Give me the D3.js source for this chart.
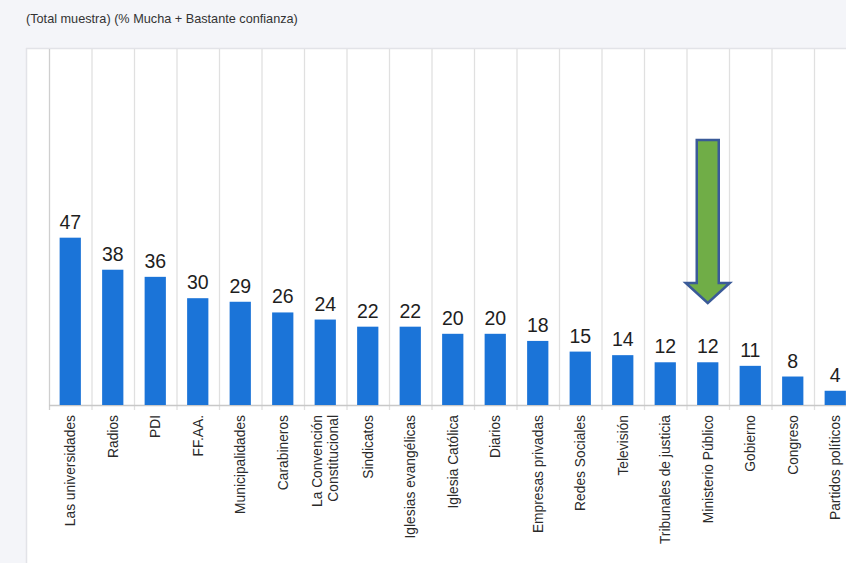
<!DOCTYPE html>
<html>
<head>
<meta charset="utf-8">
<script src="https://cdn.jsdelivr.net/npm/d3@7/dist/d3.min.js"></script>
<style>
html,body{margin:0;padding:0;background:#f4f5f9;}
svg{display:block;}
</style>
</head>
<body>
<svg id="chart" width="846" height="563"></svg>
<script>
const categories = ["Las universidades","Radios","PDI","FF.AA.","Municipalidades","Carabineros","La Convención Constitucional","Sindicatos","Iglesias evangélicas","Iglesia Católica","Diarios","Empresas privadas","Redes Sociales","Televisión","Tribunales de justicia","Ministerio Público","Gobierno","Congreso","Partidos políticos"];
const values = [47,38,36,30,29,26,24,22,22,20,20,18,15,14,12,12,11,8,4];
const labelLines = [["Las universidades"],["Radios"],["PDI"],["FF.AA."],["Municipalidades"],["Carabineros"],["La Convención","Constitucional"],["Sindicatos"],["Iglesias evangélicas"],["Iglesia Católica"],["Diarios"],["Empresas privadas"],["Redes Sociales"],["Televisión"],["Tribunales de justicia"],["Ministerio Público"],["Gobierno"],["Congreso"],["Partidos políticos"]];
const highlighted = "Ministerio Público";
const title = "(Total muestra) (% Mucha + Bastante confianza)";

const svg = d3.select("#chart");
const W = 846, H = 563;
svg.append("rect").attr("width", W).attr("height", H).attr("fill", "#f4f5f9");
// white panel
svg.append("rect").attr("x", 26).attr("y", 48).attr("width", W - 26).attr("height", H - 48).attr("fill", "#ffffff");
svg.append("line").attr("x1", 26).attr("x2", W).attr("y1", 48.5).attr("y2", 48.5).attr("stroke", "#e2e3e8").attr("stroke-width", 1.5);
svg.append("line").attr("x1", 26.5).attr("x2", 26.5).attr("y1", 48).attr("y2", H).attr("stroke", "#e2e3e8").attr("stroke-width", 1.5);

svg.append("text").attr("x", 26).attr("y", 23)
  .attr("font-family", "Liberation Sans, Arial, sans-serif").attr("font-size", 12.7)
  .attr("fill", "#333").text(title);

const step = 42.5, x0 = 49;
const x = d3.scaleBand().domain(categories).range([x0, x0 + step * categories.length]).paddingInner(0.5).paddingOuter(0.25);
const y = d3.scaleLinear().domain([0, 100]).range([405, 49]);

// gridlines at category boundaries
const bounds = d3.range(categories.length + 1).map(i => x0 + i * x.step());
svg.append("g").selectAll("line").data(bounds).join("line")
  .attr("x1", d => d + 0.5).attr("x2", d => d + 0.5)
  .attr("y1", 49).attr("y2", y(0) + 5)
  .attr("stroke", (d, i) => i === 0 ? "#cfcfcf" : "#e0e0e0").attr("stroke-width", 1.3);

// baseline axis
svg.append("line").attr("x1", x0).attr("x2", W).attr("y1", y(0) + 0.5).attr("y2", y(0) + 0.5)
  .attr("stroke", "#c8c8c8").attr("stroke-width", 1.3);

// bars
svg.append("g").selectAll("rect").data(values).join("rect")
  .attr("x", (d, i) => x(categories[i]))
  .attr("width", x.bandwidth())
  .attr("y", d => y(d))
  .attr("height", d => y(0) - y(d))
  .attr("fill", "#1b74d8");

// value labels
svg.append("g").selectAll("text").data(values).join("text")
  .attr("x", (d, i) => x(categories[i]) + x.bandwidth() / 2)
  .attr("y", d => y(d) - 9)
  .attr("text-anchor", "middle")
  .attr("font-family", "Liberation Sans, Arial, sans-serif").attr("font-size", 19.5)
  .attr("fill", "#1e1e1e").text(d => d);

// category labels
const lg = svg.append("g").attr("font-family", "Liberation Sans, Arial, sans-serif").attr("font-size", 13.8).attr("fill", "#2a2a2a");
categories.forEach((c, i) => {
  const cx = x(c) + x.bandwidth() / 2;
  const lines = labelLines[i];
  lines.forEach((ln, j) => {
    const off = (j - (lines.length - 1) / 2) * 16;
    lg.append("text")
      .attr("transform", `translate(${cx + off},${y(0) + 10}) rotate(-90)`)
      .attr("text-anchor", "end").attr("dy", "0.35em").text(ln);
  });
});

// highlight arrow
const ac = x(highlighted) + x.bandwidth() / 2;
const arrowPts = [[ac - 11, 140], [ac + 11, 140], [ac + 11, 283], [ac + 22, 283], [ac, 303], [ac - 22, 283], [ac - 11, 283]];
svg.append("polygon").attr("points", arrowPts.map(p => p.join(",")).join(" "))
  .attr("fill", "#70ad47").attr("stroke", "#3a5a98").attr("stroke-width", 2.5).attr("stroke-linejoin", "miter");
</script>
</body>
</html>
